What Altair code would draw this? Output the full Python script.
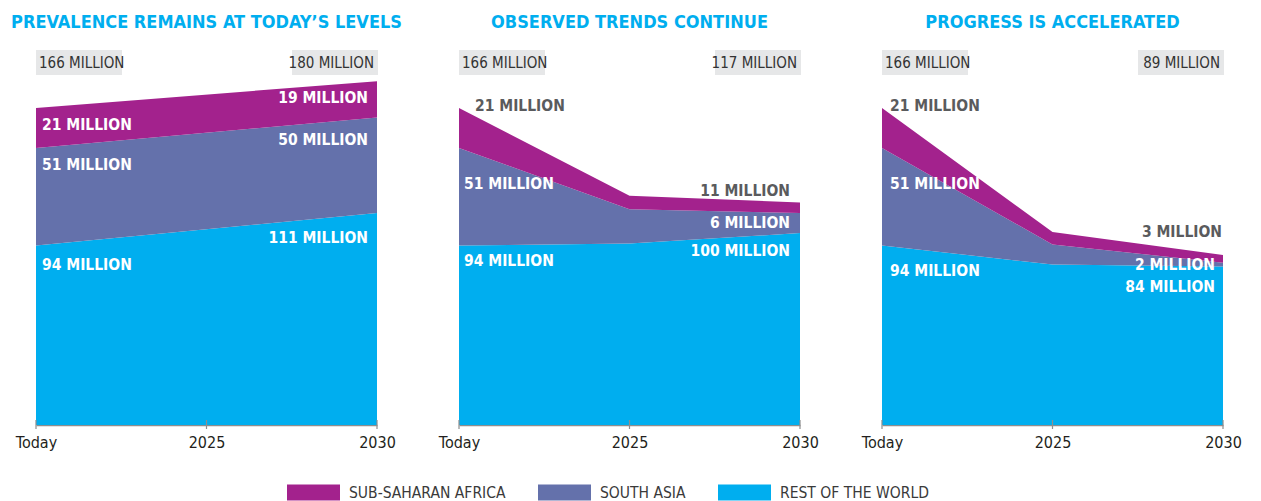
import altair as alt
import pandas as pd

# ---------------- data ----------------
PERIODS = ["Today", "2025", "2030"]
REGIONS = ["SUB-SAHARAN AFRICA", "SOUTH ASIA", "REST OF THE WORLD"]
COLORS = ["#A3228D", "#6471AB", "#00AEEF"]

TITLES = [
    "PREVALENCE REMAINS AT TODAY\u2019S LEVELS",
    "OBSERVED TRENDS CONTINUE",
    "PROGRESS IS ACCELERATED",
]

# panel 1 (straight change from Today to 2030)
P1_PERIODS = ["Today", "2030"]
P1_SSA = [21, 19]
P1_SA = [51, 50]
P1_ROW = [94, 111]

# panel 2
P2_PERIODS = ["Today", "2025", "2030"]
P2_SSA = [21, 7, 5.5]
P2_SA = [51, 18, 10.5]
P2_ROW = [94, 95, 100.5]

# panel 3
P3_PERIODS = ["Today", "2025", "2030"]
P3_SSA = [21, 6.5, 4]
P3_SA = [51, 10.5, 2]
P3_ROW = [94, 84, 83]

# labelled values (millions): [SSA, SA, ROW]
LAB_TODAY = [[21, 51, 94], [21, 51, 94], [21, 51, 94]]
LAB_2030 = [[19, 50, 111], [11, 6, 100], [3, 2, 84]]
TOTAL_TODAY = [166, 166, 166]
TOTAL_2030 = [180, 117, 89]

# ---------------- annotation layout ----------------
# label anchor heights (in value units) and pixel shifts, [SSA, SA, ROW]
LAB_TODAY_Y = [[157, 136, 84], [167, 126, 86], [167, 126, 80.5]]
LAB_TODAY_DX = [[6, 6, 6], [16, 5, 5], [8, 8, 8]]
LAB_TODAY_DARK = [[False, False, False], [True, False, False], [True, False, False]]
LAB_2030_Y = [[171, 149, 98], [122.5, 106, 91], [101, 84, 72.5]]
LAB_2030_DX = [[-9, -9, -9], [-10, -10, -10], [-1, -8, -8]]
LAB_2030_DARK = [[False, False, False], [True, False, False], [True, False, False]]

W = 341
H = 382
YMAX = 200
NARROW = "DejaVu Sans Condensed, Liberation Sans Narrow, sans-serif"
DARK = "#5A5B5D"

series = [
    (P1_PERIODS, P1_SSA, P1_SA, P1_ROW),
    (P2_PERIODS, P2_SSA, P2_SA, P2_ROW),
    (P3_PERIODS, P3_SSA, P3_SA, P3_ROW),
]

xscale = alt.Scale(type="point", padding=0, domain=PERIODS)
yscale = alt.Scale(domain=[0, YMAX])

legend = alt.Legend(
    title=None,
    orient="none",
    direction="horizontal",
    legendX=251,
    legendY=423,
    symbolType="M-1,-0.3L1,-0.3L1,0.3L-1,0.3Z",
    symbolSize=2809,
    symbolStrokeWidth=0,
    symbolOpacity=1,
    labelFont=NARROW,
    labelFontSize=15.5,
    labelColor="#3a3a3a",
    labelOffset=9,
    labelLimit=400,
    columnPadding=32,
    padding=0,
)


def panel(i):
    periods, ssa, sa, row = series[i]
    rows = []
    for j, p in enumerate(periods):
        rows.append({"period": p, "region": REGIONS[2], "value": row[j], "ord": 0})
        rows.append({"period": p, "region": REGIONS[1], "value": sa[j], "ord": 1})
        rows.append({"period": p, "region": REGIONS[0], "value": ssa[j], "ord": 2})
    df = pd.DataFrame(rows)

    area = alt.Chart(df).mark_area(opacity=1, interpolate="linear").encode(
        x=alt.X(
            "period:O",
            scale=xscale,
            sort=PERIODS,
            title=None,
            axis=alt.Axis(
                labelAngle=0,
                labelFont=NARROW,
                labelFontSize=16,
                labelColor="#231F20",
                labelPadding=9,
                ticks=False,
                tickSize=0,
                domainColor="#8E8E8E",
                domainWidth=1.5,
                grid=False,
            ),
        ),
        y=alt.Y("value:Q", stack="zero", scale=yscale, axis=None),
        color=alt.Color(
            "region:N",
            scale=alt.Scale(domain=REGIONS, range=COLORS),
            legend=legend,
        ),
        order=alt.Order("ord:Q"),
    )

    ticks = alt.Chart(pd.DataFrame({"period": PERIODS})).mark_rule(
        color="#8E8E8E", strokeWidth=1.2
    ).encode(
        x=alt.X("period:O", scale=xscale, sort=PERIODS),
        y=alt.value(H - 5),
        y2=alt.value(H + 4),
    )

    lab_rows_l = []
    for k in range(3):
        lab_rows_l.append({
            "period": "Today",
            "y": LAB_TODAY_Y[i][k],
            "dx": LAB_TODAY_DX[i][k],
            "text": f"{LAB_TODAY[i][k]} MILLION",
            "col": DARK if LAB_TODAY_DARK[i][k] else "#FFFFFF",
        })
    lab_rows_r = []
    for k in range(3):
        lab_rows_r.append({
            "period": "2030",
            "y": LAB_2030_Y[i][k],
            "dx": LAB_2030_DX[i][k],
            "text": f"{LAB_2030[i][k]} MILLION",
            "col": DARK if LAB_2030_DARK[i][k] else "#FFFFFF",
        })

    def labels(rows_, align):
        return alt.Chart(pd.DataFrame(rows_)).mark_text(
            align=align, baseline="middle", font=NARROW, fontWeight="bold", fontSize=15.5
        ).encode(
            x=alt.X("period:O", scale=xscale, sort=PERIODS),
            xOffset=alt.XOffset("dx:Q", scale=None),
            y=alt.Y("y:Q", scale=yscale),
            text="text:N",
            fill=alt.Fill("col:N", scale=None, legend=None),
        )

    box_df = pd.DataFrame({"a": [0]})
    box_l = alt.Chart(box_df).mark_rect(color="#E6E7E8").encode(
        x=alt.value(0), x2=alt.value(86), y=alt.value(7), y2=alt.value(32)
    )
    box_r = alt.Chart(box_df).mark_rect(color="#E6E7E8").encode(
        x=alt.value(W - 85), x2=alt.value(W + 1), y=alt.value(7), y2=alt.value(32)
    )
    tot_l = alt.Chart(pd.DataFrame({"t": [f"{TOTAL_TODAY[i]} MILLION"]})).mark_text(
        align="left", baseline="middle", font=NARROW, fontSize=15, color="#333333"
    ).encode(x=alt.value(3), y=alt.value(20), text="t:N")
    tot_r = alt.Chart(pd.DataFrame({"t": [f"{TOTAL_2030[i]} MILLION"]})).mark_text(
        align="right", baseline="middle", font=NARROW, fontSize=15, color="#333333"
    ).encode(x=alt.value(W - 3), y=alt.value(20), text="t:N")

    return alt.layer(
        area, ticks, labels(lab_rows_l, "left"), labels(lab_rows_r, "right"),
        box_l, box_r, tot_l, tot_r,
    ).properties(
        width=W,
        height=H,
        title=alt.TitleParams(
            TITLES[i],
            font=NARROW,
            fontSize=18,
            fontWeight="bold",
            color="#00AEEF",
            anchor="middle",
            baseline="alphabetic",
            offset=-3,
        ),
    )


chart = alt.hconcat(panel(0), panel(1), panel(2), spacing=82, bounds="flush").properties(
    padding={"left": 3, "top": 6, "right": 5, "bottom": 0}
).configure_view(strokeWidth=0)

chart.save("out.html", embed_options={"renderer": "svg", "actions": False})
